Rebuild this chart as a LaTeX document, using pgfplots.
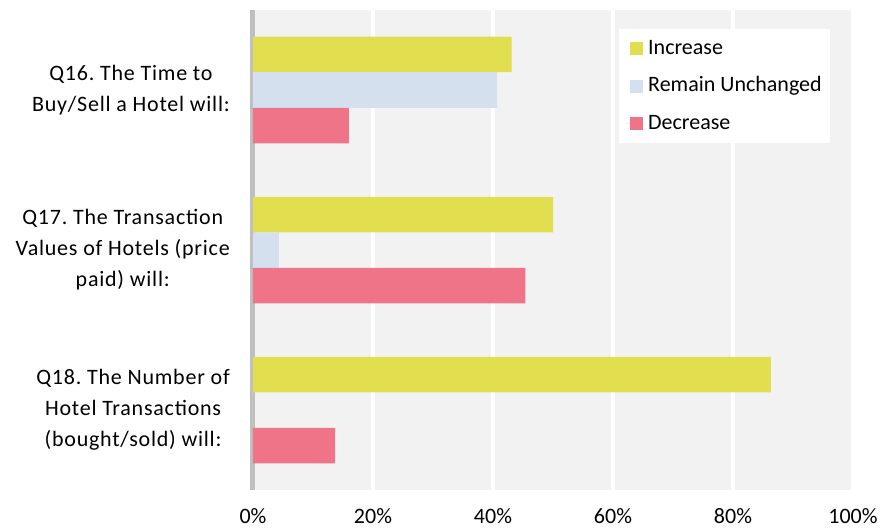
\documentclass[border=0pt]{standalone}
\usepackage{pgfplots}
\pgfplotsset{compat=1.18}
\usepackage{fontspec}
\setmainfont{Carlito}
\newfontfamily\spacedfont[LetterSpace=3.5]{Carlito}
\definecolor{incr}{HTML}{E1DE4F}
\definecolor{remain}{HTML}{D4E0EE}
\definecolor{decr}{HTML}{F07487}
\definecolor{bggray}{HTML}{F2F2F2}
\definecolor{axgray}{HTML}{BFBFBF}
\pgfplotsset{sqlegend/.style={legend image code/.code={\path (0pt,0pt) -- (16pt,0pt);\fill[##1] (3pt,-6.5pt) rectangle (16pt,6.5pt);}}}
\frenchspacing
\begin{document}
\frenchspacing
\begin{tikzpicture}
\path[use as bounding box] (-253pt,-38pt) rectangle (638pt,490pt);
\begin{axis}[
  scale only axis,
  width=600pt, height=480pt,
  xmin=0, xmax=100, ymin=-0.5, ymax=2.5,
  xbar, bar width=35.5pt,
  axis lines*=left,
  x axis line style={draw=none},
  y axis line style={draw=axgray, line width=5pt},
  axis background/.style={fill=bggray},
  xmajorgrids, major grid style={white, line width=4pt},
  major tick length=0pt, tick style={draw=none},
  xtick={0,20,40,60,80,100},
  xticklabels={0\%,20\%,40\%,60\%,80\%,100\%},
  xticklabel style={font=\fontsize{22}{26}\selectfont, anchor=north, inner sep=0pt, yshift=-18pt},
  ytick={0,1,2},
  yticklabels={{Q18. The Number of\\Hotel Transactions\\(bought/sold) will:},
               {Q17. The Transaction\\Values of Hotels (price\\paid) will:},
               {Q16. The Time to\\Buy/Sell a Hotel will:}},
  yticklabel style={font=\spacedfont\fontsize{22}{31}\selectfont, align=center, anchor=east, inner sep=0pt, xshift=-23pt},
  legend style={at={(rel axis cs:0.61,0.9604)}, anchor=north west, draw=none, fill=white,
    inner xsep=8pt, inner ysep=9pt, row sep=16.5pt,
    font=\fontsize{22}{26}\selectfont,
    nodes={inner sep=0pt, text height=16pt, text depth=5pt},
    /tikz/every odd column/.append style={column sep=5pt}},
  legend cell align=left,
]
\addplot[draw=none, fill=incr, bar shift=35.5pt, sqlegend] coordinates {(86.3,0) (50.0,1) (43.1,2)};
\addlegendentry{Increase}
\addplot[draw=none, fill=remain, bar shift=0pt, sqlegend] coordinates {(0,0) (4.3,1) (40.7,2)};
\addlegendentry{Remain Unchanged}
\addplot[draw=none, fill=decr, bar shift=-35.5pt, sqlegend] coordinates {(13.7,0) (45.4,1) (16.0,2)};
\addlegendentry{Decrease}
\end{axis}
\end{tikzpicture}
\end{document}
